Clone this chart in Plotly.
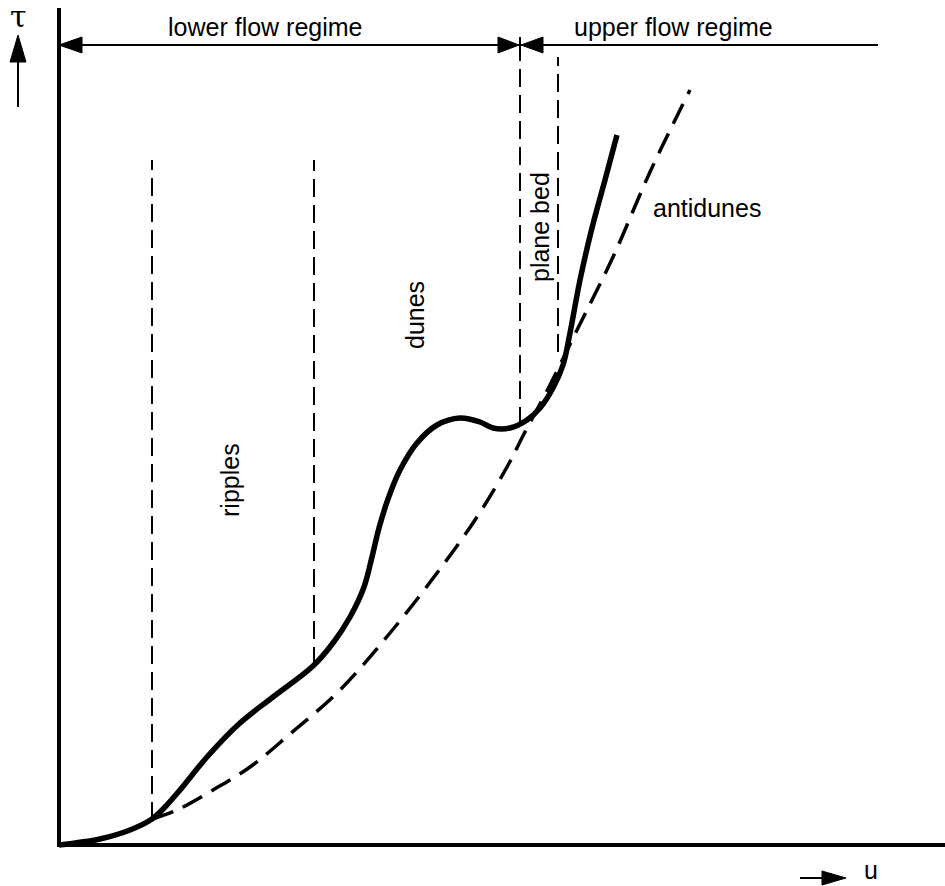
import plotly.graph_objects as go

# Data in plot units: u = horizontal distance from origin, tau = height above u-axis
bed_u = [0, 41, 71, 93, 106, 121, 148, 181, 214, 254, 274, 291, 305, 313, 320, 329, 341, 358, 378, 401, 421, 434, 451, 468, 481, 494, 504, 511, 521, 533, 546, 558]
bed_tau = [0, 6, 15, 26, 38, 55, 88, 122, 148, 179, 202, 228, 258, 288, 317, 346, 375, 402, 420, 427, 423, 417, 417, 425, 437, 457, 480, 512, 565, 617, 665, 710]

anti_u = [93, 118, 154, 191, 231, 281, 331, 378, 418, 448, 466, 491, 518, 554, 591, 631]
anti_tau = [26, 35, 55, 78, 111, 155, 212, 272, 328, 378, 413, 460, 515, 588, 673, 755]

# boundaries between bedform regions: (u, tau_bottom, tau_top)
bound_u = [93, 255, 461, 499]
bound_bottom = [25, 180, 420, 493]
bound_top = [685, 685, 793, 788]

region_labels = ["ripples", "dunes", "plane bed"]
region_u = [171, 356, 481]
region_tau = [365, 530, 618]

regime_labels = ["lower flow regime", "upper flow regime"]
regime_u = [206, 614]
regime_tau = [818, 818]
regime_line_tau = 800
regime_split_u = 461
regime_end_u = 819

fig = go.Figure()

for u, b, t in zip(bound_u, bound_bottom, bound_top):
    fig.add_trace(go.Scatter(x=[u, u], y=[b, t], mode="lines",
                             line=dict(color="black", width=2, dash="18px,8px"),
                             hoverinfo="skip", showlegend=False))

fig.add_trace(go.Scatter(x=anti_u, y=anti_tau, mode="lines", line_shape="spline",
                         line=dict(color="black", width=3.5, dash="22px,11px"),
                         hoverinfo="skip", showlegend=False))
fig.add_trace(go.Scatter(x=bed_u, y=bed_tau, mode="lines", line_shape="spline",
                         line=dict(color="black", width=5.5),
                         hoverinfo="skip", showlegend=False))

shapes = []
# axes
shapes.append(dict(type="line", x0=0, x1=0, y0=-2, y1=837, line=dict(color="black", width=4)))
shapes.append(dict(type="line", x0=-2, x1=890, y0=0, y1=0, line=dict(color="black", width=4)))
# regime line
shapes.append(dict(type="line", x0=0, x1=regime_end_u, y0=regime_line_tau, y1=regime_line_tau,
                   line=dict(color="black", width=2)))
shapes.append(dict(type="line", x0=regime_split_u, x1=regime_split_u, y0=regime_line_tau - 8,
                   y1=regime_line_tau + 8, line=dict(color="black", width=2)))

def tri(tip, base, half, horizontal=True):
    tx, ty = tip
    if horizontal:
        bx = base
        return f"M {tx},{ty} L {bx},{ty + half} L {bx},{ty - half} Z"
    else:
        by = base
        return f"M {tx},{ty} L {tx + half},{by} L {tx - half},{by} Z"

arrow_heads = [
    tri((0, regime_line_tau), 23, 8),
    tri((regime_split_u - 1, regime_line_tau), regime_split_u - 22, 8),
    tri((regime_split_u + 1, regime_line_tau), regime_split_u + 23, 8),
    tri((-41, 810), 783, 8, horizontal=False),
    tri((787, -33), 763, 7),
]
for p in arrow_heads:
    shapes.append(dict(type="path", path=p, fillcolor="black", line=dict(color="black", width=1)))
# tau arrow shaft and u arrow shaft
shapes.append(dict(type="line", x0=-41, x1=-41, y0=738, y1=790, line=dict(color="black", width=2)))
shapes.append(dict(type="line", x0=741, x1=770, y0=-33, y1=-33, line=dict(color="black", width=2)))

font = dict(family="Liberation Sans, Arial, sans-serif", size=25, color="black")
annotations = []
for txt, u, t in zip(regime_labels, regime_u, regime_tau):
    annotations.append(dict(x=u, y=t, text=txt, showarrow=False, font=font,
                            xanchor="center", yanchor="middle"))
for txt, u, t in zip(region_labels, region_u, region_tau):
    annotations.append(dict(x=u, y=t, text=txt, showarrow=False, font=font, textangle=-90,
                            xanchor="center", yanchor="middle"))
annotations.append(dict(x=592, y=637, text="antidunes", showarrow=False, font=font,
                        xanchor="left", yanchor="middle"))
annotations.append(dict(x=-41, y=829, text="τ", showarrow=False,
                        font=dict(family="DejaVu Serif, serif", size=30, color="black"),
                        xanchor="center", yanchor="middle"))
annotations.append(dict(x=812, y=-41, text="u", showarrow=False, font=font,
                        xanchor="center", yanchor="bottom"))

fig.update_layout(
    width=945, height=886,
    margin=dict(l=0, r=0, t=0, b=0),
    paper_bgcolor="white", plot_bgcolor="white",
    xaxis=dict(range=[-59, 886], visible=False, fixedrange=True),
    yaxis=dict(range=[-41, 845], visible=False, fixedrange=True),
    shapes=shapes, annotations=annotations, showlegend=False,
)

fig.write_html("out.html")
